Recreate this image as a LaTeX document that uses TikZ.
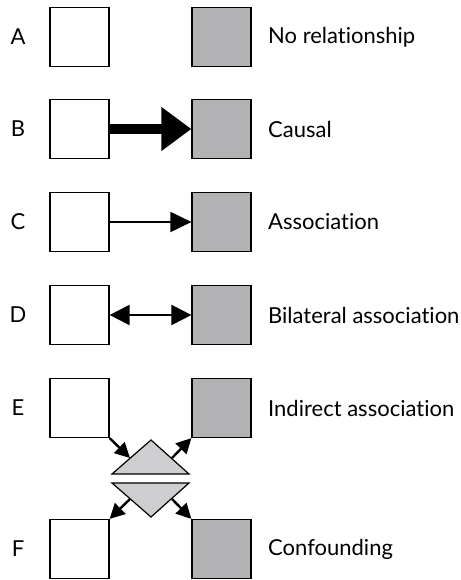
\documentclass[tikz,border=0pt]{standalone}
\usepackage{fontspec}
\setmainfont{Lato}[Ligatures={NoCommon}]
\usetikzlibrary{arrows.meta}
\definecolor{boxgrey}{RGB}{178,178,181}
\definecolor{trigrey}{RGB}{206,206,208}
\begin{document}
\begin{tikzpicture}[x=1pt,y=-1pt]
    \tikzstyle{wbox}=[draw,line width=1.2pt,fill=white,minimum size=59pt,inner sep=0pt];
    \tikzstyle{gbox}=[wbox,fill=boxgrey];
    \tikzstyle{letter}=[font=\fontsize{22}{26}\selectfont,inner sep=0pt];
    \tikzstyle{caption}=[letter,anchor=west];
    \tikzstyle{tip}=[line width=2pt,-{Triangle[length=21pt,width=20pt]}];
    \tikzstyle{small tip}=[line width=2.4pt,-{Triangle[length=15pt,width=15pt]}];
    \useasboundingbox (0,0) rectangle (460,580);
    %\node (name) at (x,y) [style] {text};
    \node (la) at (18,37) [letter] {A};
    \node (lb) at (18,129) [letter] {B};
    \node (lc) at (18,222) [letter] {C};
    \node (ld) at (18,315) [letter] {D};
    \node (le) at (18,408) [letter] {E};
    \node (lf) at (18,549) [letter] {F};

    \node (a1) at (79.5,37) [wbox] {};
    \node (a2) at (221.5,37) [gbox] {};
    \node (b1) at (79.5,129) [wbox] {};
    \node (b2) at (221.5,129) [gbox] {};
    \node (c1) at (79.5,222) [wbox] {};
    \node (c2) at (221.5,222) [gbox] {};
    \node (d1) at (79.5,315) [wbox] {};
    \node (d2) at (221.5,315) [gbox] {};
    \node (e1) at (79.5,408) [wbox] {};
    \node (e2) at (221.5,408) [gbox] {};
    \node (f1) at (79.5,549) [wbox] {};
    \node (f2) at (221.5,549) [gbox] {};

    \node (ta) at (268,37) [caption] {No relationship};
    \node (tb) at (268,129) [caption] {Causal};
    \node (tc) at (268,222) [caption] {Association};
    \node (td) at (268,315) [caption] {Bilateral association};
    \node (te) at (268,408) [caption] {Indirect association};
    \node (tf) at (268,549) [caption] {Confounding};

    % the two triangles
    \draw[line width=1.2pt,fill=trigrey,line join=miter] (112,474) -- (151,440) -- (189,474) -- cycle;
    \draw[line width=1.2pt,fill=trigrey,line join=miter] (112,483) -- (151,517) -- (189,483) -- cycle;
    \coordinate (ul) at (130,458);
    \coordinate (ur) at (172,458);
    \coordinate (ll) at (130,499);
    \coordinate (lr) at (172,499);

    \draw[line width=10pt,-{Triangle[length=30pt,width=42pt]}] (b1)--(b2);
    \draw[tip] (c1)--(c2);
    \draw[tip,{Triangle[length=20pt,width=20pt]}-{Triangle[length=20pt,width=20pt]}] (d1)--(d2);
    \draw[small tip] (e1.south east)--(ul);
    \draw[small tip] (ur)--(e2.south west);
    \draw[small tip] (ll)--(f1.north east);
    \draw[small tip] (lr)--(f2.north west);
  \end{tikzpicture}
\end{document}
